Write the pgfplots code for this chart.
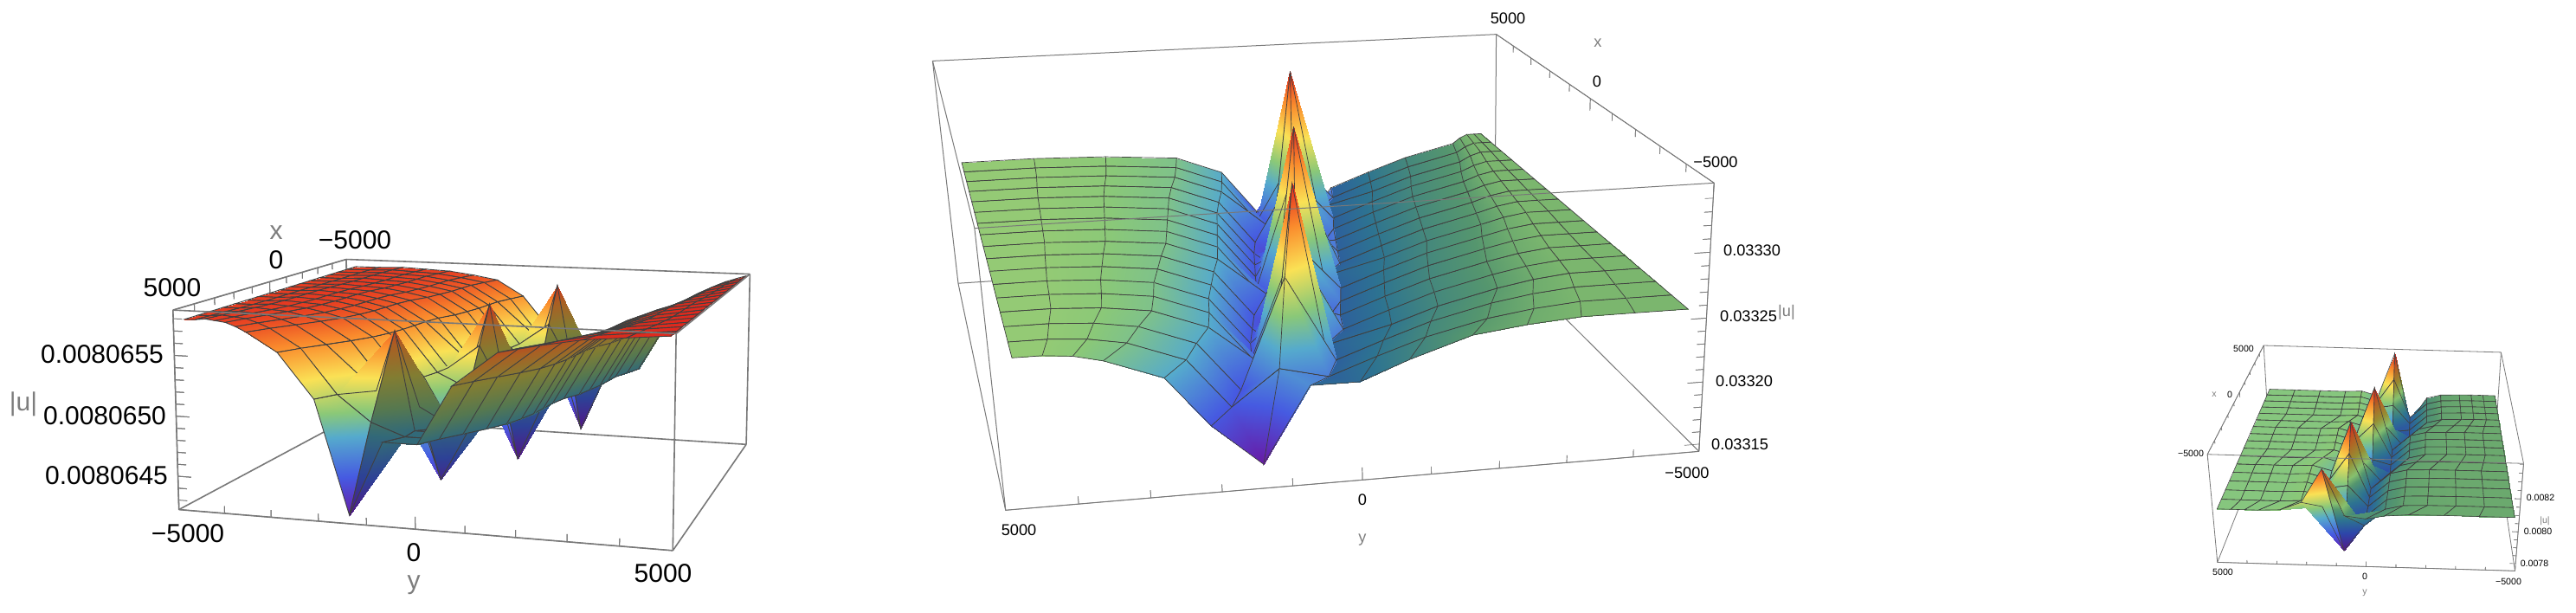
\documentclass[border=0pt]{standalone}
\usepackage{fontspec}
\setmainfont{Liberation Sans}
\usepackage{pgfplots}
\pgfplotsset{compat=1.18}
\definecolor{boxg}{RGB}{120,120,120}
\definecolor{labg}{RGB}{125,125,125}
\pgfplotsset{colormap={rb}{rgb255(0cm)=(105,25,165) rgb255(1cm)=(70,90,225) rgb255(2cm)=(85,170,205) rgb255(2.6cm)=(138,200,120) rgb255(3.4cm)=(250,225,85) rgb255(4.2cm)=(250,140,45) rgb255(5cm)=(225,40,30)}}
\pgfplotsset{colormap={rbd1}{rgb255(0cm)=(85,20,135) rgb255(1cm)=(45,65,150) rgb255(2cm)=(50,105,120) rgb255(2.6cm)=(85,120,80) rgb255(3.4cm)=(130,125,50) rgb255(4.2cm)=(170,95,35) rgb255(4.7cm)=(205,50,30) rgb255(5cm)=(225,40,30)}}
\pgfplotsset{colormap={rbd2}{rgb255(0cm)=(85,20,135) rgb255(1cm)=(45,70,170) rgb255(1.75cm)=(45,115,145) rgb255(2.4cm)=(85,150,110) rgb255(2.75cm)=(134,192,110) rgb255(3.4cm)=(150,140,50) rgb255(4.2cm)=(180,95,35) rgb255(5cm)=(215,35,30)}}
\pgfplotsset{colormap={tg}{rgb255(0cm)=(120,120,120) rgb255(1cm)=(120,120,120)}}
\newdimen\PxA \newdimen\PxB \newdimen\PyA \newdimen\PyB \newdimen\PzA \newdimen\PzB
\makeatletter
\def\perspinit{%
 \pgfkeys{/pgf/fpu=false}%
 \pgfplotstransformcoordinatex{\Pxlo}\edef\tmpa{\pgfmathresult}%
 \pgfplotstransformcoordinatex{\Pxhi}\edef\tmpb{\pgfmathresult}%
 \pgfmathparse{1/(\tmpb-\tmpa)}\global\PxA=\pgfmathresult pt\relax
 \pgfmathparse{-\tmpa/(\tmpb-\tmpa)}\global\PxB=\pgfmathresult pt\relax
 \pgfplotstransformcoordinatey{\Pylo}\edef\tmpa{\pgfmathresult}%
 \pgfplotstransformcoordinatey{\Pyhi}\edef\tmpb{\pgfmathresult}%
 \pgfmathparse{1/(\tmpb-\tmpa)}\global\PyA=\pgfmathresult pt\relax
 \pgfmathparse{-\tmpa/(\tmpb-\tmpa)}\global\PyB=\pgfmathresult pt\relax
 \pgfplotstransformcoordinatez{\Pzlo}\edef\tmpa{\pgfmathresult}%
 \pgfplotstransformcoordinatez{\Pzhi}\edef\tmpb{\pgfmathresult}%
 \pgfmathparse{1/(\tmpb-\tmpa)}\global\PzA=\pgfmathresult pt\relax
 \pgfmathparse{-\tmpa/(\tmpb-\tmpa)}\global\PzB=\pgfmathresult pt\relax
 \gdef\perspready{1}}
\def\pgfplotsqpointxyz#1#2#3{%
 \begingroup
 \ifx\perspready\relax\perspinit\fi
 \dimen0=#1\PxA \advance\dimen0 by \PxB
 \dimen2=#2\PyA \advance\dimen2 by \PyB
 \dimen4=#3\PzA \advance\dimen4 by \PzB
 \dimen6=1pt \advance\dimen6 by \Pcx\dimen0 \advance\dimen6 by \Pcy\dimen2 \advance\dimen6 by \Pcz\dimen4
 \dimen8=\Pao pt \advance\dimen8 by \Pax\dimen0 \advance\dimen8 by \Pay\dimen2 \advance\dimen8 by \Paz\dimen4
 \dimen8=\numexpr\number\dimen8*65536/\number\dimen6\relax sp
 \dimen8=\Pmx\dimen8 \advance\dimen8 by \Pox pt
 \global\pgf@x=.5\dimen8
 \dimen8=\Pbo pt \advance\dimen8 by \Pbx\dimen0 \advance\dimen8 by \Pby\dimen2 \advance\dimen8 by \Pbz\dimen4
 \dimen8=\numexpr\number\dimen8*65536/\number\dimen6\relax sp
 \dimen8=\Pmy\dimen8 \advance\dimen8 by \Poy pt
 \dimen8=-\dimen8 \advance\dimen8 by 707pt
 \global\pgf@y=.5\dimen8
 \endgroup}
\makeatother
\newcommand\persp[9]{\gdef\Pxlo{#1}\gdef\Pxhi{#2}\gdef\Pylo{#3}\gdef\Pyhi{#4}\gdef\Pzlo{#5}\gdef\Pzhi{#6}\gdef\Pmx{#7}\gdef\Pmy{#8}\gdef\Pox{#9}\global\let\perspready\relax\perspb}
\newcommand\perspb[9]{\gdef\Poy{#1}\gdef\Pao{#2}\gdef\Pax{#3}\gdef\Pay{#4}\gdef\Paz{#5}\gdef\Pbo{#6}\gdef\Pbx{#7}\gdef\Pby{#8}\gdef\Pbz{#9}\perspc}
\newcommand\perspc[3]{\gdef\Pcx{#1}\gdef\Pcy{#2}\gdef\Pcz{#3}}
\pgfplotsset{panel/.style={width=200pt,height=120pt,scale only axis,anchor=origin,clip=false,
 3d box=complete,colormap name=rb,
 axis line style={boxg},tick style={draw=none},
 major tick length=0pt,minor tick length=0pt,
 xmin=-5000,xmax=5000,ymin=-5000,ymax=5000,
 xtick={-5000,0,5000},ytick={-5000,0,5000},
 xticklabels={},yticklabels={},zticklabels={},scaled ticks=false},
 sf/.style={surf,shader=faceted interp,faceted color=black!75,mesh/ordering=y varies},
 tk/.style={mesh,patch type=line,colormap name=tg,point meta=z,forget plot}}
\newcommand\T[5]{\node[inner sep=0pt,text=#4,font=\fontsize{#3}{#3}\selectfont] at ({#1*.5pt},{(707-#2)*.5pt}) {#5};}
\begin{document}
\begin{tikzpicture}
\path[use as bounding box] (0,0) rectangle (1488pt,353.5pt);
% ---------- panel 1
\persp{5000}{-5000}{-5000}{5000}{0.00806422}{0.00806587}{1.722}{1}{0}{0}{118}{175.6}{297.4}{-6.1}{589}{19.6}{-4.9}{-237.4}{.26}{-.083}{-.018}
\begin{axis}[panel,at={(280.4pt,79.55pt)},view={112}{22},zmin=0.00806422,zmax=0.00806587,ztick={0.0080645,0.0080650,0.0080655},axis line style={line width=.8pt},point meta min=0.00806427,point meta max=0.00806585]
\addplot3[sf,line width=.45pt] coordinates {
(-5000,-4750,0.00806580)(-5000,-4142,0.00806580)(-5000,-3533,0.00806581)(-5000,-2925,0.00806580)(-5000,-2317,0.00806579)(-5000,-1708,0.00806576)(-5000,-1100,0.00806572)(-5000,-450,0.00806557)(-5000,300,0.00806521)(-5000,1000,0.00806427)

(-4375,-4750,0.00806580)(-4375,-4167,0.00806580)(-4375,-3583,0.00806581)(-4375,-3000,0.00806580)(-4375,-2417,0.00806579)(-4375,-1833,0.00806576)(-4375,-1250,0.00806572)(-4375,-600,0.00806557)(-4375,150,0.00806521)(-4375,850,0.00806501)

(-3750,-4750,0.00806580)(-3750,-4192,0.00806580)(-3750,-3633,0.00806581)(-3750,-3075,0.00806580)(-3750,-2517,0.00806579)(-3750,-1958,0.00806576)(-3750,-1400,0.00806572)(-3750,-750,0.00806557)(-3750,300,0.00806521)(-3750,700,0.00806575)

(-3125,-4750,0.00806580)(-3125,-4200,0.00806580)(-3125,-3650,0.00806581)(-3125,-3100,0.00806580)(-3125,-2550,0.00806579)(-3125,-2000,0.00806576)(-3125,-1450,0.00806572)(-3125,-800,0.00806557)(-3125,-50,0.00806521)(-3125,650,0.00806541)

(-2500,-4750,0.00806580)(-2500,-4208,0.00806580)(-2500,-3667,0.00806581)(-2500,-3125,0.00806580)(-2500,-2583,0.00806579)(-2500,-2042,0.00806576)(-2500,-1500,0.00806572)(-2500,-850,0.00806557)(-2500,-100,0.00806521)(-2500,600,0.00806503)

(-1875,-4750,0.00806580)(-1875,-4225,0.00806580)(-1875,-3700,0.00806581)(-1875,-3175,0.00806580)(-1875,-2650,0.00806579)(-1875,-2125,0.00806576)(-1875,-1600,0.00806572)(-1875,-950,0.00806557)(-1875,-200,0.00806521)(-1875,500,0.00806465)

(-1250,-4750,0.00806580)(-1250,-4242,0.00806580)(-1250,-3733,0.00806581)(-1250,-3225,0.00806580)(-1250,-2717,0.00806579)(-1250,-2208,0.00806576)(-1250,-1700,0.00806572)(-1250,-1050,0.00806557)(-1250,-300,0.00806521)(-1250,400,0.00806427)

(-625,-4750,0.00806580)(-625,-4275,0.00806580)(-625,-3800,0.00806581)(-625,-3325,0.00806580)(-625,-2850,0.00806579)(-625,-2375,0.00806576)(-625,-1900,0.00806572)(-625,-1250,0.00806557)(-625,-500,0.00806521)(-625,200,0.00806501)

(0,-4750,0.00806580)(0,-4292,0.00806580)(0,-3833,0.00806581)(0,-3375,0.00806580)(0,-2917,0.00806579)(0,-2458,0.00806576)(0,-2000,0.00806572)(0,-1350,0.00806557)(0,-300,0.00806521)(0,100,0.00806575)

(625,-4750,0.00806580)(625,-4300,0.00806580)(625,-3850,0.00806581)(625,-3400,0.00806580)(625,-2950,0.00806579)(625,-2500,0.00806576)(625,-2050,0.00806572)(625,-1400,0.00806557)(625,-650,0.00806521)(625,50,0.00806542)

(1250,-4750,0.00806580)(1250,-4308,0.00806580)(1250,-3867,0.00806581)(1250,-3425,0.00806580)(1250,-2983,0.00806579)(1250,-2542,0.00806576)(1250,-2100,0.00806572)(1250,-1450,0.00806557)(1250,-700,0.00806521)(1250,0,0.00806508)

(1875,-4750,0.00806580)(1875,-4325,0.00806580)(1875,-3900,0.00806581)(1875,-3475,0.00806580)(1875,-3050,0.00806579)(1875,-2625,0.00806576)(1875,-2200,0.00806572)(1875,-1550,0.00806557)(1875,-800,0.00806521)(1875,-100,0.00806473)

(2500,-4750,0.00806580)(2500,-4350,0.00806580)(2500,-3950,0.00806581)(2500,-3550,0.00806580)(2500,-3150,0.00806579)(2500,-2750,0.00806576)(2500,-2350,0.00806572)(2500,-1700,0.00806557)(2500,-950,0.00806521)(2500,-250,0.00806439)

(3125,-4750,0.00806580)(3125,-4392,0.00806580)(3125,-4033,0.00806581)(3125,-3675,0.00806580)(3125,-3317,0.00806579)(3125,-2958,0.00806576)(3125,-2600,0.00806572)(3125,-1950,0.00806557)(3125,-1200,0.00806521)(3125,-500,0.00806505)

(3750,-4750,0.00806580)(3750,-4442,0.00806580)(3750,-4133,0.00806581)(3750,-3825,0.00806580)(3750,-3517,0.00806579)(3750,-3208,0.00806576)(3750,-2900,0.00806572)(3750,-2250,0.00806557)(3750,-1200,0.00806521)(3750,-800,0.00806571)

(4375,-4750,0.00806580)(4375,-4492,0.00806580)(4375,-4233,0.00806581)(4375,-3975,0.00806580)(4375,-3717,0.00806579)(4375,-3458,0.00806576)(4375,-3200,0.00806572)(4375,-2550,0.00806557)(4375,-1800,0.00806521)(4375,-1100,0.00806500)

(5000,-4750,0.00806580)(5000,-4533,0.00806580)(5000,-4317,0.00806581)(5000,-4100,0.00806580)(5000,-3883,0.00806579)(5000,-3667,0.00806576)(5000,-3450,0.00806572)(5000,-2800,0.00806557)(5000,-2050,0.00806521)(5000,-1350,0.00806429)
};
\addplot3[sf,line width=.45pt,colormap name=rbd1] coordinates {
(-5000,1000,0.00806427)(-5000,1700,0.00806490)(-5000,2400,0.00806490)(-5000,3100,0.00806538)(-5000,4000,0.00806566)(-5000,4225,0.00806573)(-5000,4450,0.00806579)(-5000,4675,0.00806582)(-5000,4900,0.00806585)

(-4375,850,0.00806501)(-4375,1550,0.00806490)(-4375,2250,0.00806490)(-4375,2950,0.00806538)(-4375,3850,0.00806566)(-4375,4112,0.00806573)(-4375,4375,0.00806579)(-4375,4638,0.00806582)(-4375,4900,0.00806585)

(-3750,700,0.00806575)(-3750,1100,0.00806490)(-3750,2100,0.00806490)(-3750,2800,0.00806538)(-3750,3700,0.00806566)(-3750,4000,0.00806573)(-3750,4300,0.00806579)(-3750,4600,0.00806582)(-3750,4900,0.00806585)

(-3125,650,0.00806541)(-3125,1350,0.00806490)(-3125,2050,0.00806490)(-3125,2750,0.00806538)(-3125,3650,0.00806566)(-3125,3962,0.00806573)(-3125,4275,0.00806579)(-3125,4588,0.00806582)(-3125,4900,0.00806585)

(-2500,600,0.00806503)(-2500,1300,0.00806490)(-2500,2000,0.00806490)(-2500,2700,0.00806538)(-2500,3600,0.00806566)(-2500,3925,0.00806573)(-2500,4250,0.00806579)(-2500,4575,0.00806582)(-2500,4900,0.00806585)

(-1875,500,0.00806465)(-1875,1200,0.00806490)(-1875,1900,0.00806490)(-1875,2600,0.00806538)(-1875,3500,0.00806566)(-1875,3850,0.00806573)(-1875,4200,0.00806579)(-1875,4550,0.00806582)(-1875,4900,0.00806585)

(-1250,400,0.00806427)(-1250,1100,0.00806490)(-1250,1800,0.00806490)(-1250,2500,0.00806538)(-1250,3400,0.00806566)(-1250,3775,0.00806573)(-1250,4150,0.00806579)(-1250,4525,0.00806582)(-1250,4900,0.00806585)

(-625,200,0.00806501)(-625,900,0.00806490)(-625,1600,0.00806490)(-625,2300,0.00806538)(-625,3200,0.00806566)(-625,3625,0.00806573)(-625,4050,0.00806579)(-625,4475,0.00806582)(-625,4900,0.00806585)

(0,100,0.00806575)(0,500,0.00806490)(0,1500,0.00806490)(0,2200,0.00806538)(0,3100,0.00806566)(0,3550,0.00806573)(0,4000,0.00806579)(0,4450,0.00806582)(0,4900,0.00806585)

(625,50,0.00806542)(625,750,0.00806490)(625,1450,0.00806490)(625,2150,0.00806538)(625,3050,0.00806566)(625,3512,0.00806573)(625,3975,0.00806579)(625,4438,0.00806582)(625,4900,0.00806585)

(1250,0,0.00806508)(1250,700,0.00806490)(1250,1400,0.00806490)(1250,2100,0.00806538)(1250,3000,0.00806566)(1250,3475,0.00806573)(1250,3950,0.00806579)(1250,4425,0.00806582)(1250,4900,0.00806585)

(1875,-100,0.00806473)(1875,600,0.00806490)(1875,1300,0.00806490)(1875,2000,0.00806538)(1875,2900,0.00806566)(1875,3400,0.00806573)(1875,3900,0.00806579)(1875,4400,0.00806582)(1875,4900,0.00806585)

(2500,-250,0.00806439)(2500,450,0.00806490)(2500,1150,0.00806490)(2500,1850,0.00806538)(2500,2750,0.00806566)(2500,3288,0.00806573)(2500,3825,0.00806579)(2500,4362,0.00806582)(2500,4900,0.00806585)

(3125,-500,0.00806505)(3125,200,0.00806490)(3125,900,0.00806490)(3125,1600,0.00806538)(3125,2500,0.00806566)(3125,3100,0.00806573)(3125,3700,0.00806579)(3125,4300,0.00806582)(3125,4900,0.00806585)

(3750,-800,0.00806571)(3750,-400,0.00806490)(3750,600,0.00806490)(3750,1300,0.00806538)(3750,2200,0.00806566)(3750,2875,0.00806573)(3750,3550,0.00806579)(3750,4225,0.00806582)(3750,4900,0.00806585)

(4375,-1100,0.00806500)(4375,-400,0.00806490)(4375,300,0.00806490)(4375,1000,0.00806538)(4375,1900,0.00806566)(4375,2650,0.00806573)(4375,3400,0.00806579)(4375,4150,0.00806582)(4375,4900,0.00806585)

(5000,-1350,0.00806429)(5000,-650,0.00806490)(5000,50,0.00806490)(5000,750,0.00806538)(5000,1650,0.00806566)(5000,2462,0.00806573)(5000,3275,0.00806579)(5000,4088,0.00806582)(5000,4900,0.00806585)
};
\addplot3[tk,line width=.5pt] coordinates {(5000,-5000,0.00806422)(5000,-5000,0.00806432)(5000,-5000,0.00806422)(5000,-4000,0.00806422)(5000,-4000,0.00806428)(5000,-4000,0.00806422)(5000,-3000,0.00806422)(5000,-3000,0.00806428)(5000,-3000,0.00806422)(5000,-2000,0.00806422)(5000,-2000,0.00806428)(5000,-2000,0.00806422)(5000,-1000,0.00806422)(5000,-1000,0.00806428)(5000,-1000,0.00806422)(5000,0,0.00806422)(5000,0,0.00806432)(5000,0,0.00806422)(5000,1000,0.00806422)(5000,1000,0.00806428)(5000,1000,0.00806422)(5000,2000,0.00806422)(5000,2000,0.00806428)(5000,2000,0.00806422)(5000,3000,0.00806422)(5000,3000,0.00806428)(5000,3000,0.00806422)(5000,4000,0.00806422)(5000,4000,0.00806428)(5000,4000,0.00806422)(5000,5000,0.00806422)(5000,5000,0.00806432)};
\addplot3[tk,line width=.5pt] coordinates {(-5000,-5000,0.00806587)(-5000,-5000,0.00806577)(-5000,-5000,0.00806587)(-4000,-5000,0.00806587)(-4000,-5000,0.00806581)(-4000,-5000,0.00806587)(-3000,-5000,0.00806587)(-3000,-5000,0.00806581)(-3000,-5000,0.00806587)(-2000,-5000,0.00806587)(-2000,-5000,0.00806581)(-2000,-5000,0.00806587)(-1000,-5000,0.00806587)(-1000,-5000,0.00806581)(-1000,-5000,0.00806587)(0,-5000,0.00806587)(0,-5000,0.00806577)(0,-5000,0.00806587)(1000,-5000,0.00806587)(1000,-5000,0.00806581)(1000,-5000,0.00806587)(2000,-5000,0.00806587)(2000,-5000,0.00806581)(2000,-5000,0.00806587)(3000,-5000,0.00806587)(3000,-5000,0.00806581)(3000,-5000,0.00806587)(4000,-5000,0.00806587)(4000,-5000,0.00806581)(4000,-5000,0.00806587)(5000,-5000,0.00806587)(5000,-5000,0.00806577)};
\addplot3[tk,line width=.5pt] coordinates {(5000,-4810,0.0080643)(5000,-5000,0.0080643)(5000,-5000,0.0080644)(5000,-4810,0.0080644)(5000,-5000,0.0080644)(5000,-5000,0.0080645)(5000,-4710,0.0080645)(5000,-5000,0.0080645)(5000,-5000,0.0080646)(5000,-4810,0.0080646)(5000,-5000,0.0080646)(5000,-5000,0.0080647)(5000,-4810,0.0080647)(5000,-5000,0.0080647)(5000,-5000,0.0080648)(5000,-4810,0.0080648)(5000,-5000,0.0080648)(5000,-5000,0.0080649)(5000,-4810,0.0080649)(5000,-5000,0.0080649)(5000,-5000,0.0080650)(5000,-4710,0.0080650)(5000,-5000,0.0080650)(5000,-5000,0.0080651)(5000,-4810,0.0080651)(5000,-5000,0.0080651)(5000,-5000,0.0080652)(5000,-4810,0.0080652)(5000,-5000,0.0080652)(5000,-5000,0.0080653)(5000,-4810,0.0080653)(5000,-5000,0.0080653)(5000,-5000,0.0080654)(5000,-4810,0.0080654)(5000,-5000,0.0080654)(5000,-5000,0.0080655)(5000,-4710,0.0080655)(5000,-5000,0.0080655)(5000,-5000,0.0080656)(5000,-4810,0.0080656)(5000,-5000,0.0080656)(5000,-5000,0.0080657)(5000,-4810,0.0080657)(5000,-5000,0.0080657)(5000,-5000,0.0080658)(5000,-4810,0.0080658)};
\end{axis}
% ---------- panel 2
\persp{-5000}{5000}{-5000}{5000}{0.033144}{0.033351}{.625}{.4509}{1060}{0}{1450}{-59}{-1302}{-60.7}{1158}{-334}{76}{-716}{.30}{-.058}{-.06}
\begin{axis}[panel,at={(744.5pt,146.55pt)},view={250}{40},zmin=0.033144,zmax=0.033351,ztick={0.03315,0.03320,0.03325,0.03330},axis line style={line width=.5pt},point meta min=0.033163,point meta max=0.033341]
\addplot3[sf,line width=.35pt,colormap name=rbd2] coordinates {
(-5000,-4720,0.033258)(-5000,-3940,0.033258)(-5000,-3160,0.033258)(-5000,-2380,0.033255)(-5000,-1600,0.033250)(-5000,-700,0.033235)(-5000,0,0.033221)(-5000,700,0.033221)

(-4375,-4720,0.033258)(-4375,-4040,0.033258)(-4375,-3360,0.033258)(-4375,-2680,0.033255)(-4375,-2000,0.033250)(-4375,-1100,0.033239)(-4375,-400,0.033227)(-4375,300,0.033214)

(-3750,-4720,0.033258)(-3750,-4102,0.033258)(-3750,-3485,0.033258)(-3750,-2868,0.033255)(-3750,-2250,0.033250)(-3750,-1350,0.033239)(-3750,-650,0.033227)(-3750,50,0.033214)

(-3125,-4720,0.033258)(-3125,-4172,0.033258)(-3125,-3625,0.033258)(-3125,-3078,0.033255)(-3125,-2530,0.033250)(-3125,-1630,0.033239)(-3125,-930,0.033227)(-3125,70,0.033214)

(-2500,-4720,0.033258)(-2500,-4202,0.033258)(-2500,-3685,0.033258)(-2500,-3168,0.033255)(-2500,-2650,0.033250)(-2500,-1750,0.033239)(-2500,-1050,0.033227)(-2500,-350,0.033214)

(-1875,-4720,0.033258)(-1875,-4228,0.033258)(-1875,-3735,0.033258)(-1875,-3242,0.033255)(-1875,-2750,0.033250)(-1875,-1850,0.033239)(-1875,-1150,0.033227)(-1875,-450,0.033214)

(-1250,-4720,0.033258)(-1250,-4265,0.033258)(-1250,-3810,0.033258)(-1250,-3355,0.033255)(-1250,-2900,0.033250)(-1250,-2000,0.033239)(-1250,-1300,0.033227)(-1250,-600,0.033214)

(-625,-4720,0.033258)(-625,-4302,0.033258)(-625,-3885,0.033258)(-625,-3468,0.033255)(-625,-3050,0.033250)(-625,-2150,0.033239)(-625,-1450,0.033227)(-625,-750,0.033214)

(0,-4720,0.033258)(0,-4345,0.033258)(0,-3970,0.033258)(0,-3595,0.033255)(0,-3220,0.033250)(0,-2320,0.033239)(0,-1620,0.033227)(0,-620,0.033214)

(625,-4720,0.033258)(625,-4372,0.033258)(625,-4025,0.033258)(625,-3678,0.033255)(625,-3330,0.033250)(625,-2430,0.033239)(625,-1730,0.033227)(625,-1030,0.033214)

(1250,-4720,0.033258)(1250,-4400,0.033258)(1250,-4080,0.033258)(1250,-3760,0.033255)(1250,-3440,0.033250)(1250,-2540,0.033239)(1250,-1840,0.033227)(1250,-1140,0.033214)

(1875,-4720,0.033258)(1875,-4428,0.033258)(1875,-4135,0.033258)(1875,-3842,0.033255)(1875,-3550,0.033250)(1875,-2650,0.033239)(1875,-1950,0.033227)(1875,-1250,0.033214)

(2500,-4720,0.033258)(2500,-4455,0.033258)(2500,-4190,0.033258)(2500,-3925,0.033255)(2500,-3660,0.033250)(2500,-2760,0.033239)(2500,-2060,0.033227)(2500,-1360,0.033214)

(3125,-4720,0.033258)(3125,-4490,0.033258)(3125,-4260,0.033258)(3125,-4030,0.033255)(3125,-3800,0.033250)(3125,-2900,0.033239)(3125,-2200,0.033227)(3125,-1500,0.033214)

(3750,-4720,0.033258)(3750,-4530,0.033258)(3750,-4340,0.033258)(3750,-4150,0.033255)(3750,-3960,0.033250)(3750,-3060,0.033239)(3750,-2360,0.033227)(3750,-1360,0.033214)

(4375,-4720,0.033258)(4375,-4560,0.033258)(4375,-4400,0.033258)(4375,-4240,0.033255)(4375,-4080,0.033250)(4375,-3180,0.033239)(4375,-2480,0.033227)(4375,-1780,0.033214)

(5000,-4720,0.033258)(5000,-4588,0.033258)(5000,-4455,0.033258)(5000,-4322,0.033255)(5000,-4190,0.033250)(5000,-3290,0.033239)(5000,-2590,0.033227)(5000,-1890,0.033214)
};
\addplot3[sf,line width=.35pt] coordinates {
(-5000,700,0.033221)(-5000,1400,0.033163)(-5000,2100,0.033196)(-5000,2700,0.033235)(-5000,3500,0.033251)(-5000,3900,0.033256)(-5000,4300,0.033258)(-5000,4700,0.033258)

(-4375,300,0.033214)(-4375,1000,0.033223)(-4375,1700,0.033196)(-4375,2300,0.033235)(-4375,3100,0.033251)(-4375,3633,0.033256)(-4375,4167,0.033258)(-4375,4700,0.033258)

(-3750,50,0.033214)(-3750,750,0.033281)(-3750,1450,0.033196)(-3750,2050,0.033235)(-3750,2850,0.033251)(-3750,3467,0.033256)(-3750,4083,0.033258)(-3750,4700,0.033258)

(-3125,70,0.033214)(-3125,470,0.033341)(-3125,870,0.033196)(-3125,1770,0.033235)(-3125,2570,0.033251)(-3125,3280,0.033256)(-3125,3990,0.033258)(-3125,4700,0.033258)

(-2500,-350,0.033214)(-2500,350,0.033283)(-2500,1050,0.033196)(-2500,1650,0.033235)(-2500,2450,0.033251)(-2500,3200,0.033256)(-2500,3950,0.033258)(-2500,4700,0.033258)

(-1875,-450,0.033214)(-1875,250,0.033227)(-1875,950,0.033196)(-1875,1550,0.033235)(-1875,2350,0.033251)(-1875,3133,0.033256)(-1875,3917,0.033258)(-1875,4700,0.033258)

(-1250,-600,0.033214)(-1250,100,0.033169)(-1250,800,0.033196)(-1250,1400,0.033235)(-1250,2200,0.033251)(-1250,3033,0.033256)(-1250,3867,0.033258)(-1250,4700,0.033258)

(-625,-750,0.033214)(-625,-50,0.033254)(-625,650,0.033196)(-625,1250,0.033235)(-625,2050,0.033251)(-625,2933,0.033256)(-625,3817,0.033258)(-625,4700,0.033258)

(0,-620,0.033214)(0,-220,0.033341)(0,180,0.033196)(0,1080,0.033235)(0,1880,0.033251)(0,2820,0.033256)(0,3760,0.033258)(0,4700,0.033258)

(625,-1030,0.033214)(625,-330,0.033297)(625,370,0.033196)(625,970,0.033235)(625,1770,0.033251)(625,2747,0.033256)(625,3723,0.033258)(625,4700,0.033258)

(1250,-1140,0.033214)(1250,-440,0.033254)(1250,260,0.033196)(1250,860,0.033235)(1250,1660,0.033251)(1250,2673,0.033256)(1250,3687,0.033258)(1250,4700,0.033258)

(1875,-1250,0.033214)(1875,-550,0.033212)(1875,150,0.033196)(1875,750,0.033235)(1875,1550,0.033251)(1875,2600,0.033256)(1875,3650,0.033258)(1875,4700,0.033258)

(2500,-1360,0.033214)(2500,-660,0.033169)(2500,40,0.033196)(2500,640,0.033235)(2500,1440,0.033251)(2500,2527,0.033256)(2500,3613,0.033258)(2500,4700,0.033258)

(3125,-1500,0.033214)(3125,-800,0.033254)(3125,-100,0.033196)(3125,500,0.033235)(3125,1300,0.033251)(3125,2433,0.033256)(3125,3567,0.033258)(3125,4700,0.033258)

(3750,-1360,0.033214)(3750,-960,0.033341)(3750,-560,0.033196)(3750,340,0.033235)(3750,1140,0.033251)(3750,2327,0.033256)(3750,3513,0.033258)(3750,4700,0.033258)

(4375,-1780,0.033214)(4375,-1080,0.033254)(4375,-380,0.033196)(4375,220,0.033235)(4375,1020,0.033251)(4375,2247,0.033256)(4375,3473,0.033258)(4375,4700,0.033258)

(5000,-1890,0.033214)(5000,-1190,0.033169)(5000,-490,0.033196)(5000,110,0.033235)(5000,910,0.033251)(5000,2173,0.033256)(5000,3437,0.033258)(5000,4700,0.033258)
};
\addplot3[tk,line width=.35pt] coordinates {(-5000,-5000,0.033144)(-5000,-5000,0.033154)(-5000,-5000,0.033144)(-5000,-4000,0.033144)(-5000,-4000,0.033150)(-5000,-4000,0.033144)(-5000,-3000,0.033144)(-5000,-3000,0.033150)(-5000,-3000,0.033144)(-5000,-2000,0.033144)(-5000,-2000,0.033150)(-5000,-2000,0.033144)(-5000,-1000,0.033144)(-5000,-1000,0.033150)(-5000,-1000,0.033144)(-5000,0,0.033144)(-5000,0,0.033154)(-5000,0,0.033144)(-5000,1000,0.033144)(-5000,1000,0.033150)(-5000,1000,0.033144)(-5000,2000,0.033144)(-5000,2000,0.033150)(-5000,2000,0.033144)(-5000,3000,0.033144)(-5000,3000,0.033150)(-5000,3000,0.033144)(-5000,4000,0.033144)(-5000,4000,0.033150)(-5000,4000,0.033144)(-5000,5000,0.033144)(-5000,5000,0.033154)};
\addplot3[tk,line width=.35pt] coordinates {(-5000,-5000,0.033351)(-5000,-5000,0.033341)(-5000,-5000,0.033351)(-4000,-5000,0.033351)(-4000,-5000,0.033345)(-4000,-5000,0.033351)(-3000,-5000,0.033351)(-3000,-5000,0.033345)(-3000,-5000,0.033351)(-2000,-5000,0.033351)(-2000,-5000,0.033345)(-2000,-5000,0.033351)(-1000,-5000,0.033351)(-1000,-5000,0.033345)(-1000,-5000,0.033351)(0,-5000,0.033351)(0,-5000,0.033341)(0,-5000,0.033351)(1000,-5000,0.033351)(1000,-5000,0.033345)(1000,-5000,0.033351)(2000,-5000,0.033351)(2000,-5000,0.033345)(2000,-5000,0.033351)(3000,-5000,0.033351)(3000,-5000,0.033345)(3000,-5000,0.033351)(4000,-5000,0.033351)(4000,-5000,0.033345)(4000,-5000,0.033351)(5000,-5000,0.033351)(5000,-5000,0.033341)};
\addplot3[tk,line width=.35pt] coordinates {(-5000,-4770,0.03315)(-5000,-5000,0.03315)(-5000,-5000,0.03316)(-5000,-4880,0.03316)(-5000,-5000,0.03316)(-5000,-5000,0.03317)(-5000,-4880,0.03317)(-5000,-5000,0.03317)(-5000,-5000,0.03318)(-5000,-4880,0.03318)(-5000,-5000,0.03318)(-5000,-5000,0.03319)(-5000,-4880,0.03319)(-5000,-5000,0.03319)(-5000,-5000,0.03320)(-5000,-4770,0.03320)(-5000,-5000,0.03320)(-5000,-5000,0.03321)(-5000,-4880,0.03321)(-5000,-5000,0.03321)(-5000,-5000,0.03322)(-5000,-4880,0.03322)(-5000,-5000,0.03322)(-5000,-5000,0.03323)(-5000,-4880,0.03323)(-5000,-5000,0.03323)(-5000,-5000,0.03324)(-5000,-4880,0.03324)(-5000,-5000,0.03324)(-5000,-5000,0.03325)(-5000,-4770,0.03325)(-5000,-5000,0.03325)(-5000,-5000,0.03326)(-5000,-4880,0.03326)(-5000,-5000,0.03326)(-5000,-5000,0.03327)(-5000,-4880,0.03327)(-5000,-5000,0.03327)(-5000,-5000,0.03328)(-5000,-4880,0.03328)(-5000,-5000,0.03328)(-5000,-5000,0.03329)(-5000,-4880,0.03329)(-5000,-5000,0.03329)(-5000,-5000,0.03330)(-5000,-4770,0.03330)(-5000,-5000,0.03330)(-5000,-5000,0.03331)(-5000,-4880,0.03331)(-5000,-5000,0.03331)(-5000,-5000,0.03332)(-5000,-4880,0.03332)(-5000,-5000,0.03332)(-5000,-5000,0.03333)(-5000,-4880,0.03333)(-5000,-5000,0.03333)(-5000,-5000,0.03334)(-5000,-4880,0.03334)};
\end{axis}
% ---------- panel 3
\persp{-5000}{5000}{-5000}{5000}{0.007753}{0.008407}{.3333}{.3333}{2480}{370}{1280}{313.8}{-1040}{-47.3}{870}{-330}{-30}{-402.3}{.315}{0}{-.059}
\begin{axis}[panel,at={(1372pt,69.15pt)},view={272}{45},zmin=0.007753,zmax=0.008407,ztick={0.0078,0.0080,0.0082},axis line style={line width=.4pt},point meta min=0.007786,point meta max=0.008374]
\addplot3[sf,line width=.3pt] coordinates {
(-5000,1400,0.008342)(-5000,2100,0.008141)(-5000,2800,0.008093)(-5000,3500,0.008087)(-5000,3950,0.008087)(-5000,4400,0.008087)(-5000,4850,0.008087)

(-4375,800,0.007786)(-4375,1500,0.008060)(-4375,2200,0.008093)(-4375,2900,0.008087)(-4375,3550,0.008087)(-4375,4200,0.008087)(-4375,4850,0.008087)

(-3750,780,0.007933)(-3750,1480,0.008060)(-3750,2180,0.008093)(-3750,2880,0.008087)(-3750,3537,0.008087)(-3750,4193,0.008087)(-3750,4850,0.008087)

(-3125,760,0.008080)(-3125,1460,0.008060)(-3125,2160,0.008093)(-3125,2860,0.008087)(-3125,3523,0.008087)(-3125,4187,0.008087)(-3125,4850,0.008087)

(-2500,750,0.008227)(-2500,1450,0.008060)(-2500,2150,0.008093)(-2500,2850,0.008087)(-2500,3517,0.008087)(-2500,4183,0.008087)(-2500,4850,0.008087)

(-1875,740,0.008374)(-1875,1440,0.008060)(-1875,2140,0.008093)(-1875,2840,0.008087)(-1875,3510,0.008087)(-1875,4180,0.008087)(-1875,4850,0.008087)

(-1250,420,0.008080)(-1250,1120,0.008060)(-1250,1820,0.008093)(-1250,2520,0.008087)(-1250,3297,0.008087)(-1250,4073,0.008087)(-1250,4850,0.008087)

(-625,100,0.007786)(-625,800,0.008060)(-625,1500,0.008093)(-625,2200,0.008087)(-625,3083,0.008087)(-625,3967,0.008087)(-625,4850,0.008087)

(0,100,0.007982)(0,800,0.008060)(0,1500,0.008093)(0,2200,0.008087)(0,3083,0.008087)(0,3967,0.008087)(0,4850,0.008087)

(625,100,0.008178)(625,800,0.008060)(625,1500,0.008093)(625,2200,0.008087)(625,3083,0.008087)(625,3967,0.008087)(625,4850,0.008087)

(1250,100,0.008374)(1250,800,0.008060)(1250,1500,0.008093)(1250,2200,0.008087)(1250,3083,0.008087)(1250,3967,0.008087)(1250,4850,0.008087)

(1875,-220,0.008080)(1875,480,0.008060)(1875,1180,0.008093)(1875,1880,0.008087)(1875,2870,0.008087)(1875,3860,0.008087)(1875,4850,0.008087)

(2500,-540,0.007786)(2500,160,0.008060)(2500,860,0.008093)(2500,1560,0.008087)(2500,2657,0.008087)(2500,3753,0.008087)(2500,4850,0.008087)

(3125,-535,0.007933)(3125,165,0.008060)(3125,865,0.008093)(3125,1565,0.008087)(3125,2660,0.008087)(3125,3755,0.008087)(3125,4850,0.008087)

(3750,-530,0.008080)(3750,170,0.008060)(3750,870,0.008093)(3750,1570,0.008087)(3750,2663,0.008087)(3750,3757,0.008087)(3750,4850,0.008087)

(4375,-525,0.008227)(4375,175,0.008060)(4375,875,0.008093)(4375,1575,0.008087)(4375,2667,0.008087)(4375,3758,0.008087)(4375,4850,0.008087)

(5000,-520,0.008374)(5000,180,0.008060)(5000,880,0.008093)(5000,1580,0.008087)(5000,2670,0.008087)(5000,3760,0.008087)(5000,4850,0.008087)
};
\addplot3[sf,line width=.3pt,colormap name=rbd2] coordinates {
(-5000,-4850,0.008087)(-5000,-3700,0.008087)(-5000,-2550,0.008087)(-5000,-1400,0.008085)(-5000,-600,0.008073)(-5000,0,0.008052)(-5000,700,0.008067)(-5000,1400,0.008342)

(-4375,-4850,0.008087)(-4375,-3900,0.008087)(-4375,-2950,0.008087)(-4375,-2000,0.008085)(-4375,-1200,0.008080)(-4375,-600,0.008054)(-4375,100,0.007949)(-4375,800,0.007786)

(-3750,-4850,0.008087)(-3750,-3907,0.008087)(-3750,-2963,0.008087)(-3750,-2020,0.008085)(-3750,-1220,0.008080)(-3750,-620,0.008054)(-3750,80,0.007949)(-3750,780,0.007933)

(-3125,-4850,0.008087)(-3125,-3913,0.008087)(-3125,-2977,0.008087)(-3125,-2040,0.008085)(-3125,-1240,0.008080)(-3125,-640,0.008054)(-3125,60,0.007949)(-3125,760,0.008080)

(-2500,-4850,0.008087)(-2500,-3917,0.008087)(-2500,-2983,0.008087)(-2500,-2050,0.008085)(-2500,-1250,0.008080)(-2500,-650,0.008054)(-2500,50,0.007949)(-2500,750,0.008227)

(-1875,-4850,0.008087)(-1875,-3920,0.008087)(-1875,-2990,0.008087)(-1875,-2060,0.008085)(-1875,-1260,0.008080)(-1875,-660,0.008054)(-1875,40,0.007949)(-1875,740,0.008374)

(-1250,-4850,0.008087)(-1250,-4027,0.008087)(-1250,-3203,0.008087)(-1250,-2380,0.008085)(-1250,-1580,0.008080)(-1250,-980,0.008054)(-1250,-280,0.007949)(-1250,420,0.008080)

(-625,-4850,0.008087)(-625,-4133,0.008087)(-625,-3417,0.008087)(-625,-2700,0.008085)(-625,-1900,0.008080)(-625,-1300,0.008054)(-625,-600,0.007949)(-625,100,0.007786)

(0,-4850,0.008087)(0,-4133,0.008087)(0,-3417,0.008087)(0,-2700,0.008085)(0,-1900,0.008080)(0,-1300,0.008054)(0,-600,0.007949)(0,100,0.007982)

(625,-4850,0.008087)(625,-4133,0.008087)(625,-3417,0.008087)(625,-2700,0.008085)(625,-1900,0.008080)(625,-1300,0.008054)(625,-600,0.007949)(625,100,0.008178)

(1250,-4850,0.008087)(1250,-4133,0.008087)(1250,-3417,0.008087)(1250,-2700,0.008085)(1250,-1900,0.008080)(1250,-1300,0.008054)(1250,-600,0.007949)(1250,100,0.008374)

(1875,-4850,0.008087)(1875,-4240,0.008087)(1875,-3630,0.008087)(1875,-3020,0.008085)(1875,-2220,0.008080)(1875,-1620,0.008054)(1875,-920,0.007949)(1875,-220,0.008080)

(2500,-4850,0.008087)(2500,-4347,0.008087)(2500,-3843,0.008087)(2500,-3340,0.008085)(2500,-2540,0.008080)(2500,-1940,0.008054)(2500,-1240,0.007949)(2500,-540,0.007786)

(3125,-4850,0.008087)(3125,-4345,0.008087)(3125,-3840,0.008087)(3125,-3335,0.008085)(3125,-2535,0.008080)(3125,-1935,0.008054)(3125,-1235,0.007949)(3125,-535,0.007933)

(3750,-4850,0.008087)(3750,-4343,0.008087)(3750,-3837,0.008087)(3750,-3330,0.008085)(3750,-2530,0.008080)(3750,-1930,0.008054)(3750,-1230,0.007949)(3750,-530,0.008080)

(4375,-4850,0.008087)(4375,-4342,0.008087)(4375,-3833,0.008087)(4375,-3325,0.008085)(4375,-2525,0.008080)(4375,-1925,0.008054)(4375,-1225,0.007949)(4375,-525,0.008227)

(5000,-4850,0.008087)(5000,-4340,0.008087)(5000,-3830,0.008087)(5000,-3320,0.008085)(5000,-2520,0.008080)(5000,-1920,0.008054)(5000,-1220,0.007871)(5000,-520,0.008374)
};
\addplot3[tk,line width=.3pt] coordinates {(-5000,-5000,0.007753)(-5000,-5000,0.007785)(-5000,-5000,0.007753)(-5000,-4000,0.007753)(-5000,-4000,0.007772)(-5000,-4000,0.007753)(-5000,-3000,0.007753)(-5000,-3000,0.007772)(-5000,-3000,0.007753)(-5000,-2000,0.007753)(-5000,-2000,0.007772)(-5000,-2000,0.007753)(-5000,-1000,0.007753)(-5000,-1000,0.007772)(-5000,-1000,0.007753)(-5000,0,0.007753)(-5000,0,0.007785)(-5000,0,0.007753)(-5000,1000,0.007753)(-5000,1000,0.007772)(-5000,1000,0.007753)(-5000,2000,0.007753)(-5000,2000,0.007772)(-5000,2000,0.007753)(-5000,3000,0.007753)(-5000,3000,0.007772)(-5000,3000,0.007753)(-5000,4000,0.007753)(-5000,4000,0.007772)(-5000,4000,0.007753)(-5000,5000,0.007753)(-5000,5000,0.007785)};
\addplot3[tk,line width=.3pt] coordinates {(-5000,5000,0.008407)(-5000,5000,0.008375)(-5000,5000,0.008407)(-4000,5000,0.008407)(-4000,5000,0.008388)(-4000,5000,0.008407)(-3000,5000,0.008407)(-3000,5000,0.008388)(-3000,5000,0.008407)(-2000,5000,0.008407)(-2000,5000,0.008388)(-2000,5000,0.008407)(-1000,5000,0.008407)(-1000,5000,0.008388)(-1000,5000,0.008407)(0,5000,0.008407)(0,5000,0.008375)(0,5000,0.008407)(1000,5000,0.008407)(1000,5000,0.008388)(1000,5000,0.008407)(2000,5000,0.008407)(2000,5000,0.008388)(2000,5000,0.008407)(3000,5000,0.008407)(3000,5000,0.008388)(3000,5000,0.008407)(4000,5000,0.008407)(4000,5000,0.008388)(4000,5000,0.008407)(5000,5000,0.008407)(5000,5000,0.008375)};
\addplot3[tk,line width=.3pt] coordinates {(-5000,-4800,0.00780)(-5000,-5000,0.00780)(-5000,-5000,0.00785)(-5000,-4880,0.00785)(-5000,-5000,0.00785)(-5000,-5000,0.00790)(-5000,-4880,0.00790)(-5000,-5000,0.00790)(-5000,-5000,0.00795)(-5000,-4880,0.00795)(-5000,-5000,0.00795)(-5000,-5000,0.00800)(-5000,-4800,0.00800)(-5000,-5000,0.00800)(-5000,-5000,0.00805)(-5000,-4880,0.00805)(-5000,-5000,0.00805)(-5000,-5000,0.00810)(-5000,-4880,0.00810)(-5000,-5000,0.00810)(-5000,-5000,0.00815)(-5000,-4880,0.00815)(-5000,-5000,0.00815)(-5000,-5000,0.00820)(-5000,-4800,0.00820)(-5000,-5000,0.00820)(-5000,-5000,0.00825)(-5000,-4880,0.00825)(-5000,-5000,0.00825)(-5000,-5000,0.00830)(-5000,-4880,0.00830)(-5000,-5000,0.00830)(-5000,-5000,0.00835)(-5000,-4880,0.00835)(-5000,-5000,0.00835)(-5000,-5000,0.00840)(-5000,-4880,0.00840)};
\end{axis}
% ---------- text
\T{319}{269}{15}{labg}{x}
\T{410}{277}{15}{black}{−5000}
\T{319}{300}{15}{black}{0}
\T{199}{332}{15}{black}{5000}
\T{118}{409}{15}{black}{0.0080655}
\T{121}{480}{15}{black}{0.0080650}
\T{123}{549}{15}{black}{0.0080645}
\T{27}{467}{15}{labg}{|u|}
\T{217}{616}{15}{black}{−5000}
\T{478}{638}{15}{black}{0}
\T{766}{662}{15}{black}{5000}
\T{478}{676}{15}{labg}{y}
\T{1742}{21}{9.1}{black}{5000}
\T{1846}{50}{9.1}{labg}{x}
\T{1845}{94}{9.1}{black}{0}
\T{1982}{187}{9.1}{black}{−5000}
\T{2024}{289}{9.1}{black}{0.03330}
\T{2020}{365}{9.1}{black}{0.03325}
\T{2015}{440}{9.1}{black}{0.03320}
\T{2010}{513}{9.1}{black}{0.03315}
\T{2064}{361}{9.1}{labg}{|u|}
\T{1949}{546}{9.1}{black}{−5000}
\T{1574}{577}{9.1}{black}{0}
\T{1177}{612}{9.1}{black}{5000}
\T{1574}{624}{9.1}{labg}{y}
\T{2592}{403}{5.3}{black}{5000}
\T{2558}{456}{5.3}{labg}{x}
\T{2576}{456}{5.3}{black}{0}
\T{2531}{524}{5.3}{black}{−5000}
\T{2935}{575}{5.3}{black}{0.0082}
\T{2940}{602}{5.3}{labg}{|u|}
\T{2932}{614}{5.3}{black}{0.0080}
\T{2928}{651}{5.3}{black}{0.0078}
\T{2568}{661}{5.3}{black}{5000}
\T{2732}{666}{5.3}{black}{0}
\T{2898}{672}{5.3}{black}{−5000}
\T{2732}{685}{5.3}{labg}{y}
\end{tikzpicture}
\end{document}
